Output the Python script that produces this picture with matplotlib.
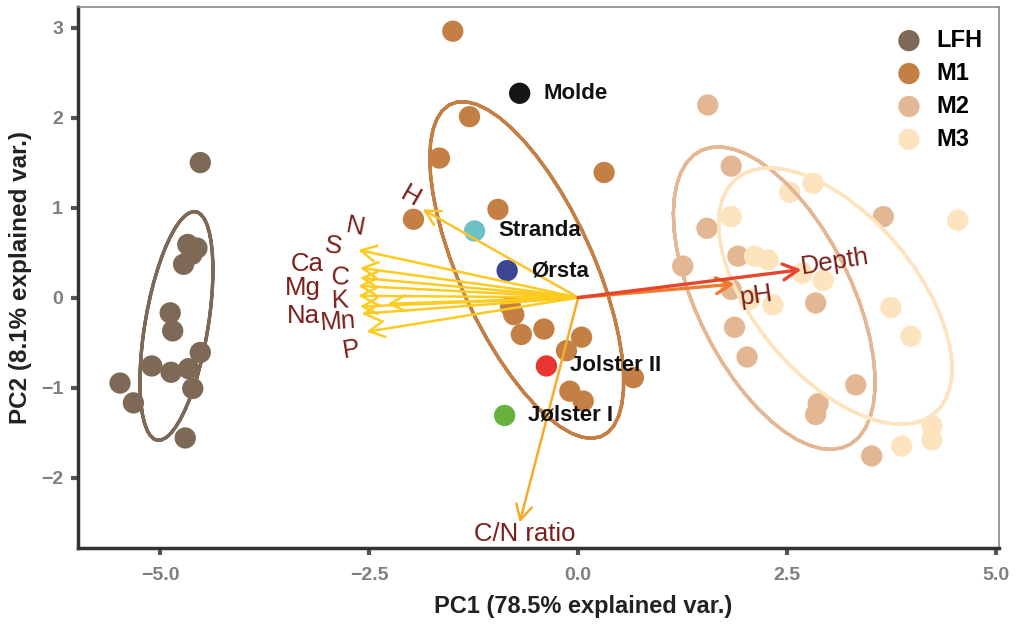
import numpy as np
import matplotlib
matplotlib.use("Agg")
import matplotlib.pyplot as plt

plt.rcParams['font.family'] = ['Liberation Sans', 'DejaVu Sans']

# PCA scores per horizon (PC1, PC2)
lfh_pc1 = [-4.52, -4.67, -4.56, -4.62, -4.72, -4.88, -4.85, -4.52, -5.10, -4.87, -4.66, -5.48, -5.32, -4.61, -4.70]
lfh_pc2 = [1.50, 0.59, 0.55, 0.48, 0.37, -0.17, -0.37, -0.61, -0.76, -0.83, -0.79, -0.95, -1.17, -1.01, -1.56]

m1_pc1 = [-1.50, -1.30, -1.66, 0.31, -0.96, -1.97, -0.81, -0.77, -0.68, -0.41, 0.04, -0.14, 0.66, -0.10, 0.06]
m1_pc2 = [2.96, 2.01, 1.55, 1.39, 0.98, 0.87, -0.10, -0.19, -0.41, -0.35, -0.44, -0.59, -0.89, -1.04, -1.15]

m2_pc1 = [1.55, 1.83, 1.54, 1.91, 1.25, 1.83, 3.65, 2.84, 1.87, 2.02, 3.32, 2.87, 2.84, 3.51]
m2_pc2 = [2.14, 1.46, 0.77, 0.46, 0.35, 0.09, 0.90, -0.06, -0.33, -0.66, -0.97, -1.18, -1.30, -1.76]

m3_pc1 = [1.83, 2.53, 2.81, 4.54, 2.11, 2.27, 2.68, 2.93, 2.33, 2.05, 3.74, 3.98, 4.23, 4.23, 3.87]
m3_pc2 = [0.90, 1.17, 1.27, 0.86, 0.46, 0.42, 0.27, 0.19, -0.08, -0.02, -0.11, -0.43, -1.42, -1.58, -1.65]

groups = ['LFH', 'M1', 'M2', 'M3']
group_colors = ['#7d6955', '#c48044', '#e4b794', '#fde4be']

# reference sites
sites = ['Molde', 'Stranda', 'Ørsta', 'Jolster II', 'Jølster I']
site_pc1 = [-0.70, -1.24, -0.85, -0.38, -0.88]
site_pc2 = [2.27, 0.74, 0.30, -0.76, -1.31]
site_colors = ['#151515', '#6cc1c6', '#3b4795', '#e8352f', '#66b23c']

# variable loadings (arrow tips)
variables = ['N', 'S', 'Ca', 'C', 'Mg', 'K', 'Na', 'Mn', 'P', 'H', 'C/N ratio', 'pH', 'Depth']
load_pc1 = [-2.63, -2.61, -2.61, -2.63, -2.63, -2.28, -2.61, -2.59, -2.53, -1.86, -0.70, 1.87, 2.67]
load_pc2 = [0.53, 0.33, 0.22, 0.13, 0.02, -0.07, -0.10, -0.18, -0.38, 0.98, -2.50, 0.15, 0.31]
arrow_colors = ['#fdcb1f'] * 9 + ['#fcc22a', '#f8aa28', '#f27a2e', '#e6452b']

# where the variable names sit
label_pc1 = [-2.67, -2.93, -3.24, -2.85, -3.29, -2.85, -3.29, -2.87, -2.71, -2.01, -0.64, 2.13, 3.07]
label_pc2 = [0.78, 0.57, 0.37, 0.22, 0.11, -0.04, -0.21, -0.27, -0.58, 1.12, -2.63, 0.02, 0.40]
label_rot = [-11, -8, 0, -3, 0, 2, 0, 4, 9, -30, 0, 8, 9]


def ellipse_xy(x, y, prob=0.68):
    # same recipe as ggbiplot: normal ellipse from the group covariance
    theta = np.concatenate([np.linspace(-np.pi, np.pi, 50), np.linspace(np.pi, -np.pi, 50)])
    circle = np.column_stack([np.cos(theta), np.sin(theta)])
    sigma = np.cov(np.vstack([x, y]))
    ed = np.sqrt(-2 * np.log(1 - prob))
    pts = circle @ np.linalg.cholesky(sigma).T * ed + np.array([np.mean(x), np.mean(y)])
    return pts[:, 0], pts[:, 1]


fig, ax = plt.subplots(figsize=(10.16, 6.26), dpi=100)
fig.subplots_adjust(left=0.077, right=0.983, bottom=0.125, top=0.989)

score_x = [lfh_pc1, m1_pc1, m2_pc1, m3_pc1]
score_y = [lfh_pc2, m1_pc2, m2_pc2, m3_pc2]
for name, xs, ys, col in zip(groups, score_x, score_y, group_colors):
    ax.scatter(xs, ys, s=235, color=col, edgecolors='none', label=name, zorder=2)
for xs, ys, col in zip(score_x, score_y, group_colors):
    ex, ey = ellipse_xy(np.array(xs), np.array(ys))
    ax.plot(ex, ey, color=col, lw=2.4, zorder=3)

for name, x, y, col in zip(sites, site_pc1, site_pc2, site_colors):
    ax.scatter([x], [y], s=235, color=col, edgecolors='none', zorder=4)
    ax.annotate(name, (x, y), xytext=(17, 0), textcoords='offset points',
                va='center', ha='left', fontsize=16, fontweight='bold', color='#111111', zorder=6)

for i, var in enumerate(variables):
    lw = 2.4 if var in ('pH', 'Depth') else 1.8
    ax.annotate('', xy=(load_pc1[i], load_pc2[i]), xytext=(0, 0),
                arrowprops=dict(arrowstyle='->,head_length=0.6,head_width=0.32', color=arrow_colors[i],
                                lw=lw, shrinkA=0, shrinkB=0, mutation_scale=18), zorder=5)
    ax.text(label_pc1[i], label_pc2[i], var, rotation=label_rot[i], ha='center', va='center',
            fontsize=18.5, color='#7a1f1a', zorder=6)

ax.set_xlim(-5.98, 5.03)
ax.set_ylim(-2.78, 3.23)
ax.set_xticks([-5.0, -2.5, 0.0, 2.5, 5.0])
ax.set_xticklabels(['\u22125.0', '\u22122.5', '0.0', '2.5', '5.0'])
ax.set_yticks([-2, -1, 0, 1, 2, 3])
ax.set_yticklabels(['\u22122', '\u22121', '0', '1', '2', '3'])
ax.tick_params(axis='both', length=5, width=3, color='#555555', labelsize=14, labelcolor='#7f7f7f')
ax.tick_params(axis='x', pad=9)
ax.tick_params(axis='y', pad=6)
for lab in ax.get_xticklabels() + ax.get_yticklabels():
    lab.set_fontweight('bold')

ax.set_xlabel('PC1 (78.5% explained var.)', fontsize=17, fontweight='bold', color='#222222')
ax.xaxis.set_label_coords(0.549, -0.088)
ax.set_ylabel('PC2 (8.1% explained var.)', fontsize=17.5, fontweight='bold', color='#222222', labelpad=6)

for side in ('left', 'bottom'):
    ax.spines[side].set_color('#333333')
    ax.spines[side].set_linewidth(2.5)
for side in ('top', 'right'):
    ax.spines[side].set_color('#8a8a8a')
    ax.spines[side].set_linewidth(1.2)

leg = ax.legend(loc='upper right', bbox_to_anchor=(1.0, 0.99), frameon=False, fontsize=17,
                handletextpad=0.15, labelspacing=0.42, borderaxespad=0.3, scatterpoints=1)
for t in leg.get_texts():
    t.set_fontweight('bold')

fig.savefig('out.png', dpi=100)
